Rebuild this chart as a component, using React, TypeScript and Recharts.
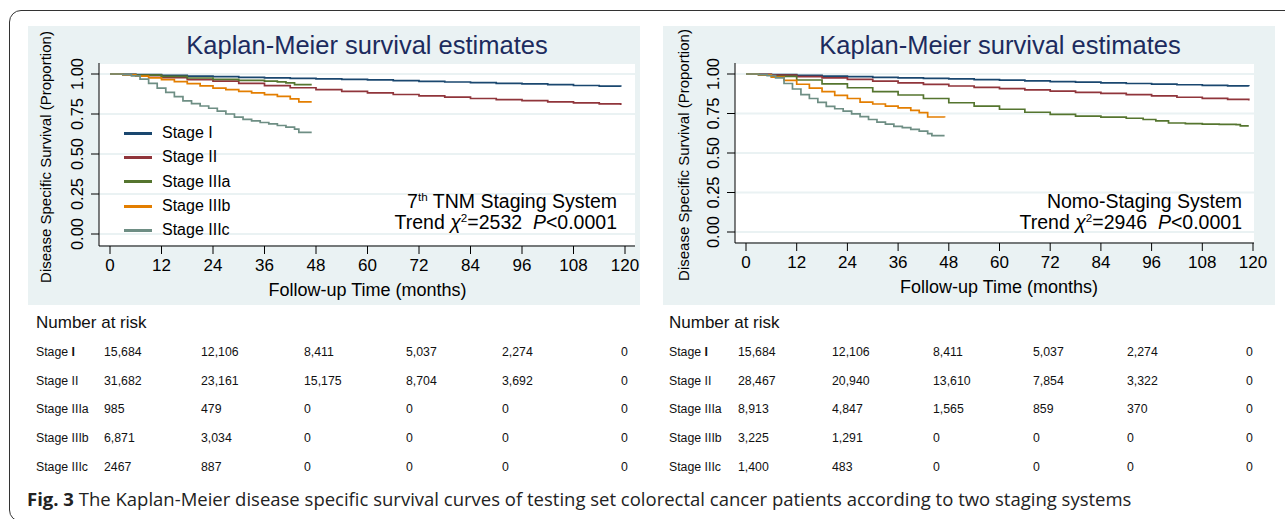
import { LineChart, Line, XAxis, YAxis, CartesianGrid, Legend } from "recharts";

const stageNames = ["Stage I", "Stage II", "Stage IIIa", "Stage IIIb", "Stage IIIc"];
const stageColors = ["#1a476f", "#90353b", "#55752f", "#e37e00", "#6e8e84"];
const monthTicks = [0, 12, 24, 36, 48, 60, 72, 84, 96, 108, 120];
const survivalTicks = [0, 0.25, 0.5, 0.75, 1];

// follow-up times (months) of the long curves
const longTimes = [0, 3, 6, 12, 18, 24, 30, 36, 42, 48, 54, 60, 66, 72, 78, 84, 90, 96, 102, 108, 114, 119];
const shortTimes = [0, 3, 6, 9, 12, 15, 18, 21, 24, 27, 30, 33, 36, 39, 42, 44, 47];
const stepTimes = [0, 3, 5, 7, 9, 11, 13, 15, 17, 19, 21, 23, 25, 27, 29, 31, 33, 35, 37, 39, 41, 43, 44, 47];

// 7th TNM staging system
const tnmStageI = [1, 0.998, 0.996, 0.991, 0.987, 0.983, 0.979, 0.976, 0.973, 0.969, 0.966, 0.963, 0.958, 0.954, 0.95, 0.946, 0.942, 0.938, 0.933, 0.928, 0.924, 0.921];
const tnmStageII = [1, 0.996, 0.99, 0.977, 0.965, 0.955, 0.941, 0.927, 0.914, 0.902, 0.892, 0.882, 0.872, 0.863, 0.855, 0.847, 0.84, 0.833, 0.826, 0.82, 0.813, 0.806];
const tnmIIIaTimes = [0, 3, 6, 12, 18, 24, 30, 36, 39, 41, 43, 47];
const tnmStageIIIa = [1, 0.997, 0.993, 0.985, 0.975, 0.966, 0.96, 0.955, 0.951, 0.945, 0.934, 0.934];
const tnmStageIIIb = [1, 0.995, 0.987, 0.976, 0.965, 0.952, 0.94, 0.926, 0.912, 0.902, 0.892, 0.882, 0.871, 0.86, 0.845, 0.826, 0.826];
const tnmStageIIIc = [1, 0.996, 0.988, 0.968, 0.942, 0.912, 0.885, 0.858, 0.832, 0.815, 0.8, 0.786, 0.768, 0.75, 0.73, 0.717, 0.707, 0.697, 0.688, 0.678, 0.668, 0.655, 0.635, 0.635];

// Nomo-staging system
const nomoStageI = [1, 0.998, 0.996, 0.992, 0.987, 0.983, 0.979, 0.975, 0.972, 0.969, 0.965, 0.961, 0.957, 0.952, 0.948, 0.944, 0.94, 0.936, 0.932, 0.928, 0.925, 0.922];
const nomoStageII = [1, 0.997, 0.993, 0.984, 0.975, 0.966, 0.955, 0.944, 0.934, 0.924, 0.915, 0.907, 0.899, 0.892, 0.884, 0.877, 0.869, 0.861, 0.853, 0.846, 0.839, 0.833];
const nomoIIIaTimes = [0, 3, 6, 12, 18, 24, 30, 36, 42, 48, 54, 60, 66, 72, 78, 84, 90, 94, 97, 100, 104, 108, 112, 116, 117, 119];
const nomoStageIIIa = [1, 0.995, 0.985, 0.962, 0.937, 0.913, 0.889, 0.867, 0.845, 0.818, 0.797, 0.777, 0.758, 0.744, 0.734, 0.727, 0.72, 0.712, 0.703, 0.69, 0.686, 0.683, 0.681, 0.68, 0.672, 0.672];
const nomoIIIbTimes = [0, 3, 6, 9, 12, 15, 18, 21, 24, 27, 30, 33, 36, 39, 41, 43, 47];
const nomoStageIIIb = [1, 0.994, 0.98, 0.96, 0.935, 0.91, 0.888, 0.865, 0.845, 0.822, 0.81, 0.797, 0.785, 0.77, 0.755, 0.728, 0.724];
const nomoStageIIIc = [1, 0.996, 0.99, 0.975, 0.94, 0.905, 0.87, 0.845, 0.82, 0.795, 0.78, 0.765, 0.748, 0.73, 0.712, 0.695, 0.683, 0.668, 0.66, 0.65, 0.638, 0.622, 0.61, 0.61];

// number at risk at 0, 24, 48, 72, 96, 120 months
const tnmRiskI = ["15,684", "12,106", "8,411", "5,037", "2,274", "0"];
const tnmRiskII = ["31,682", "23,161", "15,175", "8,704", "3,692", "0"];
const tnmRiskIIIa = ["985", "479", "0", "0", "0", "0"];
const tnmRiskIIIb = ["6,871", "3,034", "0", "0", "0", "0"];
const tnmRiskIIIc = ["2467", "887", "0", "0", "0", "0"];
const nomoRiskI = ["15,684", "12,106", "8,411", "5,037", "2,274", "0"];
const nomoRiskII = ["28,467", "20,940", "13,610", "7,854", "3,322", "0"];
const nomoRiskIIIa = ["8,913", "4,847", "1,565", "859", "370", "0"];
const nomoRiskIIIb = ["3,225", "1,291", "0", "0", "0", "0"];
const nomoRiskIIIc = ["1,400", "483", "0", "0", "0", "0"];

const toPoints = (times: number[], surv: number[]) => times.map((t, i) => ({ t, s: surv[i] }));

const tnmCurves = [
  toPoints(longTimes, tnmStageI),
  toPoints(longTimes, tnmStageII),
  toPoints(tnmIIIaTimes, tnmStageIIIa),
  toPoints(shortTimes, tnmStageIIIb),
  toPoints(stepTimes, tnmStageIIIc),
];
const nomoCurves = [
  toPoints(longTimes, nomoStageI),
  toPoints(longTimes, nomoStageII),
  toPoints(nomoIIIaTimes, nomoStageIIIa),
  toPoints(nomoIIIbTimes, nomoStageIIIb),
  toPoints(stepTimes, nomoStageIIIc),
];

const chartFont = "'Liberation Sans', Arial, sans-serif";
const panelBg = "#eaf2f3";

function SurvivalTick(props: any) {
  const { x, y, payload } = props;
  const bx = x - 6;
  return (
    <text x={bx} y={y} transform={`rotate(-90 ${bx} ${y})`} textAnchor="middle" fontSize={16.5} fill="#000">
      {Number(payload.value).toFixed(2)}
    </text>
  );
}

function StageLegend(props: any) {
  const items = props.payload || [];
  return (
    <div style={{ fontFamily: chartFont }}>
      {items.map((p: any) => (
        <div key={p.value} style={{ display: "flex", alignItems: "center", height: 24.3 }}>
          <span style={{ display: "inline-block", width: 28, height: 3, background: p.color, marginRight: 10.5 }} />
          <span style={{ fontSize: 16, color: "#000" }}>{p.value}</span>
        </div>
      ))}
    </div>
  );
}

type PanelProps = {
  left: number;
  curves: { t: number; s: number }[][];
  yAxisWidth: number;
  marginRight: number;
  xAxisHeight: number;
  padRight: number;
  padBottom: number;
  titleX: number;
  xTitleX: number;
  xTitleY: number;
  yTitleX: number;
  yTitleY: number;
  noteRight: number;
  noteFirst: React.ReactNode;
  noteSecond: React.ReactNode;
  showLegend: boolean;
};

const supStyle = { fontSize: "0.6em", verticalAlign: "0.6em", lineHeight: 0 };

function KMPanel(p: PanelProps) {
  return (
    <div style={{ position: "absolute", left: p.left, top: 26, width: 612, height: 279, background: panelBg, fontFamily: chartFont }}>
      <div style={{ position: "absolute", left: p.titleX - 250, top: 4.2, width: 500, textAlign: "center", fontSize: 25.5, lineHeight: "30px", color: "#1c2b5e" }}>
        Kaplan-Meier survival estimates
      </div>
      <LineChart width={612} height={279} margin={{ top: 37, right: p.marginRight, bottom: 0, left: 0 }}>
        <CartesianGrid vertical={false} stroke={panelBg} strokeWidth={2} fill="#fff" />
        <XAxis
          type="number"
          dataKey="t"
          domain={[0, 120]}
          ticks={monthTicks}
          interval={0}
          height={p.xAxisHeight}
          padding={{ left: 11, right: p.padRight }}
          tickSize={8}
          tickMargin={5}
          stroke="#000"
          tick={{ fill: "#000", fontSize: 17 }}
          allowDuplicatedCategory={false}
        />
        <YAxis
          type="number"
          domain={[0, 1]}
          ticks={survivalTicks}
          interval={0}
          width={p.yAxisWidth}
          padding={{ top: 11, bottom: p.padBottom }}
          tickSize={8}
          stroke="#000"
          tick={<SurvivalTick />}
        />
        {p.showLegend && (
          <Legend
            layout="horizontal"
            verticalAlign="middle"
            align="center"
            content={<StageLegend />}
            wrapperStyle={{ left: 95.5, top: 95, width: 160 }}
          />
        )}
        {p.curves.map((c, i) => (
          <Line
            key={stageNames[i]}
            name={stageNames[i]}
            data={c}
            dataKey="s"
            type="stepAfter"
            stroke={stageColors[i]}
            strokeWidth={1.7}
            dot={false}
            activeDot={false}
            isAnimationActive={false}
          />
        ))}
      </LineChart>
      <div
        style={{
          position: "absolute",
          left: p.yTitleX,
          top: p.yTitleY,
          transform: "translate(-50%, -50%) rotate(-90deg)",
          whiteSpace: "nowrap",
          fontSize: 15,
          lineHeight: "15px",
          color: "#000",
        }}
      >
        Disease Specific Survival (Proportion)
      </div>
      <div style={{ position: "absolute", left: p.xTitleX - 150, top: p.xTitleY - 10, width: 300, textAlign: "center", fontSize: 18, lineHeight: "20px", color: "#000" }}>
        Follow-up Time (months)
      </div>
      <div style={{ position: "absolute", right: p.noteRight, top: 164.8, textAlign: "right", fontSize: 19.5, lineHeight: "20.7px", color: "#000", whiteSpace: "nowrap" }}>
        <div>{p.noteFirst}</div>
        <div>{p.noteSecond}</div>
      </div>
    </div>
  );
}

function RiskTable({ left, cols, rows }: { left: number; cols: number[]; rows: string[][] }) {
  const rowY = [352, 381, 409, 438, 467];
  const labels = [
    <>Stage <b>I</b></>,
    "Stage II",
    "Stage IIIa",
    "Stage IIIb",
    "Stage IIIc",
  ];
  const cell = { position: "absolute" as const, fontSize: 12.3, lineHeight: "16px", whiteSpace: "nowrap" as const, fontFamily: "'Liberation Sans Narrow', 'Liberation Sans', Arial, sans-serif", color: "#111" };
  return (
    <>
      <div style={{ position: "absolute", left, top: 313, fontSize: 17, lineHeight: "19px", fontFamily: "'Liberation Sans Narrow', 'Liberation Sans', Arial, sans-serif", color: "#111" }}>Number at risk</div>
      {rows.map((r, i) => (
        <div key={i}>
          <span style={{ ...cell, left, top: rowY[i] - 7.9 }}>{labels[i]}</span>
          {r.map((v, j) => (
            <span key={j} style={{ ...cell, left: cols[j], top: rowY[i] - 7.9 }}>{v}</span>
          ))}
        </div>
      ))}
    </>
  );
}

export default function App() {
  return (
    <div style={{ position: "absolute", left: 0, top: 0, width: 1285, height: 519, overflow: "hidden", background: "#fff" }}>
      <div style={{ position: "absolute", left: 9, top: 10, width: 1300, height: 512, border: "1.5px solid #333", borderRadius: 12, boxSizing: "border-box" }} />
      <KMPanel
        left={28}
        curves={tnmCurves}
        yAxisWidth={71}
        marginRight={5}
        xAxisHeight={59}
        padRight={10}
        padBottom={12}
        titleX={339}
        xTitleX={339.5}
        xTitleY={264}
        yTitleX={17}
        yTitleY={130.7}
        noteRight={23}
        noteFirst={<>7<sup style={supStyle}>th</sup> TNM Staging System</>}
        noteSecond={<>Trend <i>χ</i><sup style={supStyle}>2</sup>=2532&nbsp; <i>P</i>&lt;0.0001</>}
        showLegend={true}
      />
      <KMPanel
        left={663}
        curves={nomoCurves}
        yAxisWidth={72}
        marginRight={21}
        xAxisHeight={62}
        padRight={1}
        padBottom={11}
        titleX={337}
        xTitleX={336}
        xTitleY={260.7}
        yTitleX={19.7}
        yTitleY={129}
        noteRight={33}
        noteFirst={<>Nomo-Staging System</>}
        noteSecond={<>Trend <i>χ</i><sup style={supStyle}>2</sup>=2946&nbsp; <i>P</i>&lt;0.0001</>}
        showLegend={false}
      />
      <RiskTable
        left={36}
        cols={[104, 201, 304, 406, 502, 621]}
        rows={[tnmRiskI, tnmRiskII, tnmRiskIIIa, tnmRiskIIIb, tnmRiskIIIc]}
      />
      <RiskTable
        left={669}
        cols={[738, 832, 933, 1033, 1127, 1246]}
        rows={[nomoRiskI, nomoRiskII, nomoRiskIIIa, nomoRiskIIIb, nomoRiskIIIc]}
      />
      <div style={{ position: "absolute", left: 27, top: 486.5, fontSize: 18.5, lineHeight: "24px", fontFamily: "'Open Sans', sans-serif", color: "#222", whiteSpace: "nowrap" }}>
        <b>Fig. 3</b> The Kaplan-Meier disease specific survival curves of testing set colorectal cancer patients according to two staging systems
      </div>
    </div>
  );
}
